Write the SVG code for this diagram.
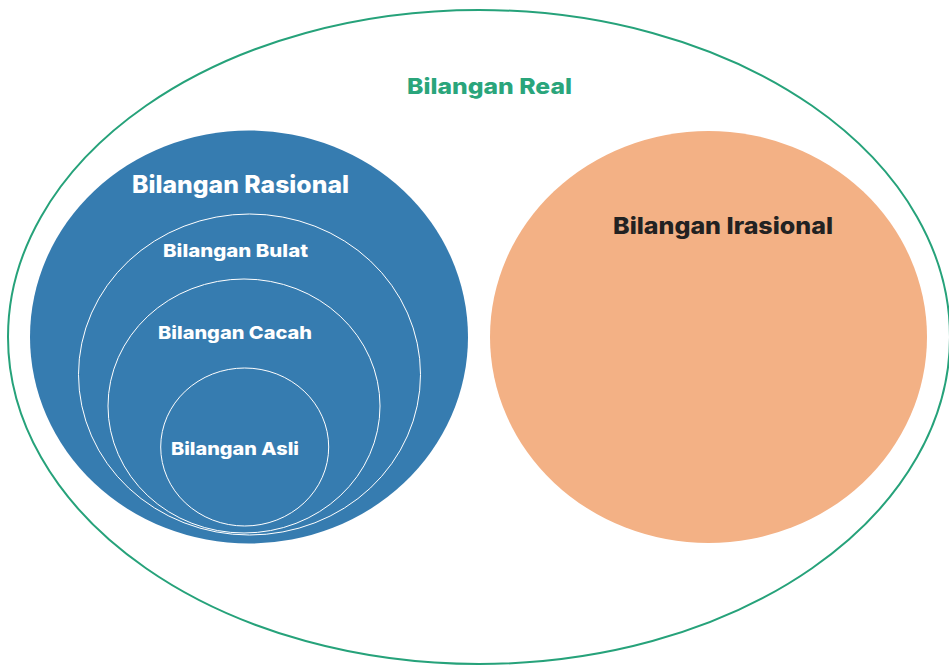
<svg xmlns="http://www.w3.org/2000/svg" width="949" height="665" viewBox="0 0 949 665">
<style>
.lbl{font-family:Inter,"Open Sans","Liberation Sans",sans-serif;font-weight:800;text-anchor:middle}
.w{fill:#ffffff}
.ring{fill:none;stroke:#ffffff;stroke-width:1}
</style>
<rect width="949" height="665" fill="#ffffff"/>
<g id="real">
<ellipse cx="479" cy="337" rx="471" ry="327" fill="none" stroke="#26A27A" stroke-width="2"/>
<text class="lbl" x="489.5" y="94" font-size="22" fill="#2AA57B" textLength="165" lengthAdjust="spacingAndGlyphs">Bilangan Real</text>
</g>
<g id="rasional">
<ellipse cx="249" cy="337" rx="219" ry="206.5" fill="#367CB0"/>
<text class="lbl w" x="240.5" y="193" font-size="24" textLength="217" lengthAdjust="spacingAndGlyphs">Bilangan Rasional</text>
</g>
<g id="bulat">
<ellipse class="ring" cx="249.5" cy="374.5" rx="171" ry="160.5"/>
<text class="lbl w" x="235.5" y="257" font-size="18" textLength="145" lengthAdjust="spacingAndGlyphs">Bilangan Bulat</text>
</g>
<g id="cacah">
<ellipse class="ring" cx="244" cy="406" rx="136" ry="127"/>
<text class="lbl w" x="235" y="339" font-size="18" textLength="154" lengthAdjust="spacingAndGlyphs">Bilangan Cacah</text>
</g>
<g id="asli">
<ellipse class="ring" cx="244.7" cy="447" rx="84" ry="79"/>
<text class="lbl w" x="235" y="455" font-size="18" textLength="128" lengthAdjust="spacingAndGlyphs">Bilangan Asli</text>
</g>
<g id="irasional">
<ellipse cx="708.5" cy="337" rx="218.5" ry="206" fill="#F3B185"/>
<text class="lbl" x="723" y="234" font-size="23" fill="#222222" textLength="220" lengthAdjust="spacingAndGlyphs">Bilangan Irasional</text>
</g>
<g id="connectors"/>
</svg>
